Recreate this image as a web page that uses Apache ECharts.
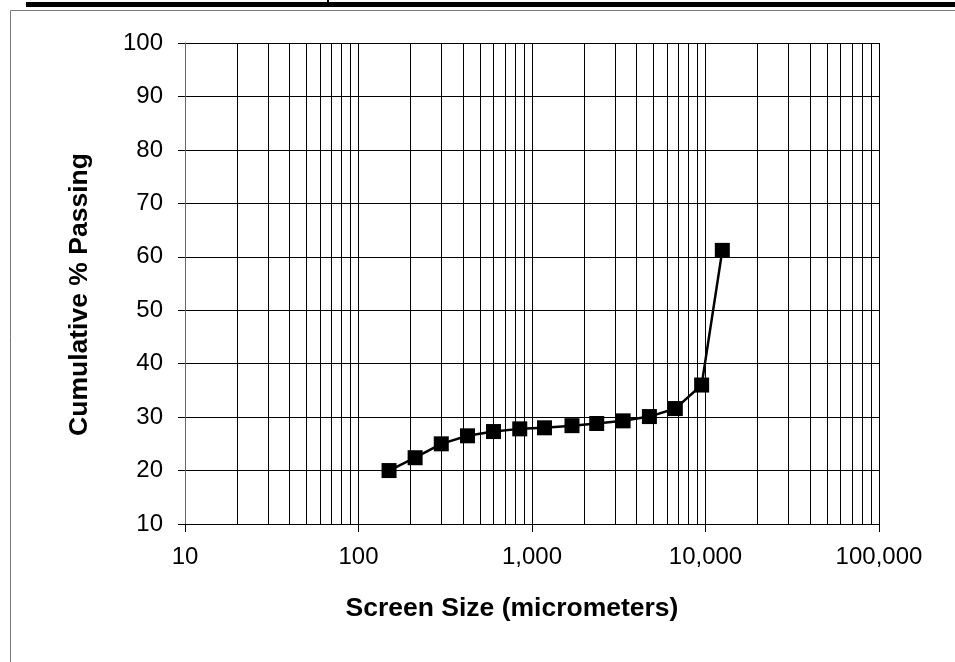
<!DOCTYPE html>
<html>
<head>
<meta charset="utf-8">
<script src="https://cdn.jsdelivr.net/npm/echarts@6/dist/echarts.min.js"></script>
<style>
html,body{margin:0;padding:0;background:#fff;}
#c{width:955px;height:662px;}
</style>
</head>
<body>
<div id="c"></div>
<script>
// Sieve sizes (micrometers) and cumulative % passing
const screenSizes = [150, 212, 300, 425, 600, 850, 1180, 1700, 2360, 3350, 4750, 6700, 9500, 12500];
const cumulativePassing = [20.0, 22.4, 25.0, 26.5, 27.3, 27.8, 28.0, 28.4, 28.8, 29.3, 30.1, 31.6, 36.0, 61.2];
// Axis ranges and gridlines
const xMin = 10, xMax = 100000;
const yMin = 10, yMax = 100, yStep = 10;
const minorGridX = [20,30,40,50,60,70,80,90,
                    200,300,400,500,600,700,800,900,
                    2000,3000,4000,5000,6000,7000,8000,9000,
                    20000,30000,40000,50000,60000,70000,80000,90000];
const xTitle = 'Screen Size (micrometers)';
const yTitle = 'Cumulative % Passing';

const FONT = '"Liberation Sans", Arial, sans-serif';
const chart = echarts.init(document.getElementById('c'), null, {renderer:'canvas'});

function fmt(v){ return Math.round(v).toString().replace(/\B(?=(\d{3})+(?!\d))/g, ','); }

chart.setOption({
  animation: false,
  backgroundColor: '#fff',
  graphic: [
    {type:'rect', shape:{x:26, y:2, width:929, height:5}, style:{fill:'#000'}, silent:true},
    {type:'rect', shape:{x:327, y:0, width:2, height:3}, style:{fill:'#000'}, silent:true},
    {type:'line', shape:{x1:10.5, y1:10.5, x2:955, y2:10.5}, style:{stroke:'#7a7a7a', lineWidth:1}, silent:true},
    {type:'line', shape:{x1:10.5, y1:10.5, x2:10.5, y2:662}, style:{stroke:'#7a7a7a', lineWidth:1}, silent:true}
  ],
  grid: {left:185, right:76, top:43, bottom:138, containLabel:false, show:false},
  xAxis: {
    type:'log', logBase:10, min:xMin, max:xMax,
    name: xTitle, nameLocation:'middle', nameGap:71,
    nameTextStyle:{fontFamily:FONT, fontSize:26.5, fontWeight:'bold', color:'#000', padding:[0,40,0,0]},
    axisLine:{show:true, lineStyle:{color:'#000', width:1}},
    axisTick:{show:true, length:8, lineStyle:{color:'#000'}},
    axisLabel:{fontFamily:FONT, fontSize:24, color:'#000', margin:21, formatter: fmt},
    splitLine:{show:true, lineStyle:{color:'#000', width:1}},
    minorTick:{show:false}, minorSplitLine:{show:false}
  },
  yAxis: {
    type:'value', min:yMin, max:yMax, interval:yStep,
    name: yTitle, nameLocation:'middle', nameGap:92,
    nameTextStyle:{fontFamily:FONT, fontSize:26.5, fontWeight:'bold', color:'#000', padding:[0,22,0,0]},
    axisLine:{show:true, lineStyle:{color:'#666', width:1}},
    axisTick:{show:true, length:7, lineStyle:{color:'#000'}},
    axisLabel:{fontFamily:FONT, fontSize:24, color:'#000', margin:22},
    splitLine:{show:true, lineStyle:{color:'#000', width:1}}
  },
  series: [{
    type:'line',
    data: screenSizes.map((s,i)=>[s, cumulativePassing[i]]),
    symbol:'rect', symbolSize:15,
    itemStyle:{color:'#000'},
    lineStyle:{color:'#000', width:2.5},
    z:5,
    markLine:{
      silent:true, symbol:['none','none'], label:{show:false},
      lineStyle:{color:'#000', width:1, type:'solid'},
      emphasis:{disabled:true},
      data: minorGridX.map(v=>({xAxis:v}))
    }
  }]
});
</script>
</body>
</html>
